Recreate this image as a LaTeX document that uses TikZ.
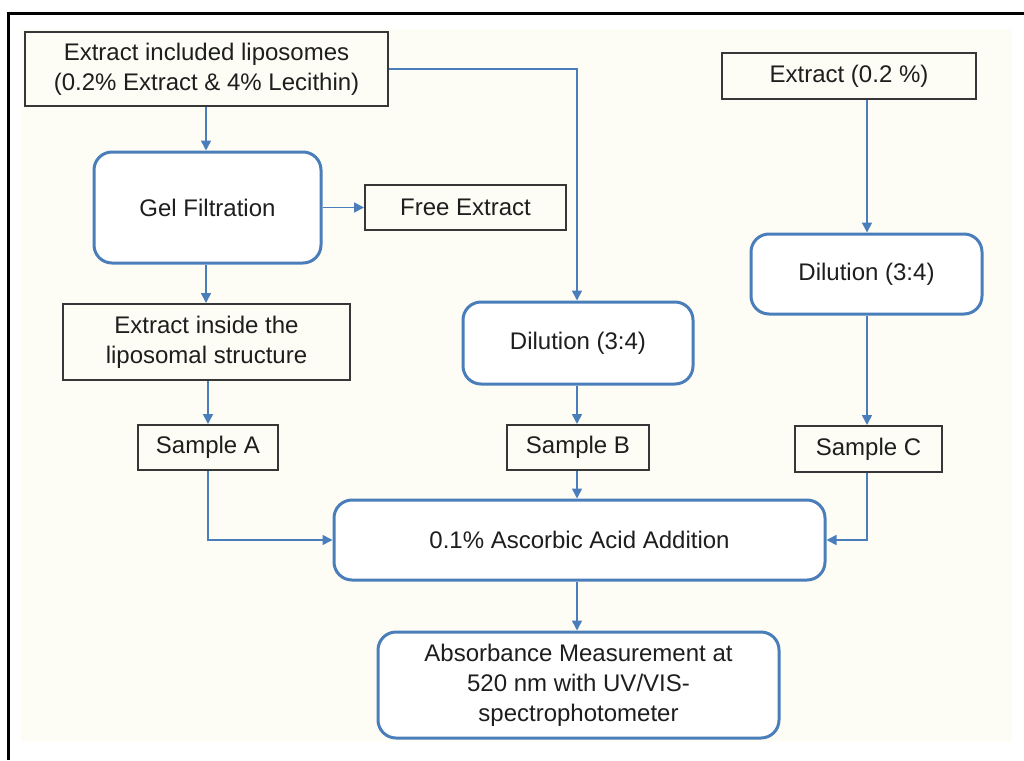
\documentclass[tikz,border=0pt]{standalone}
\usepackage{fontspec}
\setmainfont{Liberation Sans}
\usetikzlibrary{arrows.meta}
\definecolor{flowblue}{RGB}{74,126,187}
\definecolor{bgivory}{RGB}{253,253,246}
\definecolor{boxgray}{RGB}{55,55,55}
\definecolor{txtgray}{RGB}{30,30,30}
\tikzset{
  sqbox/.style={draw=boxgray, line width=2pt, fill=bgivory, align=center, inner sep=0pt, text=txtgray},
  rbox/.style={draw=flowblue, line width=3pt, rounded corners=18pt, fill=white, align=center, inner sep=0pt, text=txtgray},
  flow/.style={draw=flowblue, line width=1.6pt, -{Triangle[length=10pt,width=10pt]}},
  every node/.style={font=\fontsize{24}{30}\selectfont}
}
\begin{document}
\begin{tikzpicture}[x=1pt,y=-1pt]
\useasboundingbox (0,0) rectangle (1024,760);
\fill[white] (0,0) rectangle (1024,760);
\fill[bgivory] (21,29) rectangle (1012,742);
\draw[black, line width=3.5pt] (8.5,760) -- (8.5,13.5) -- (1024,13.5);

\node[sqbox, minimum width=363pt, minimum height=74pt] (e1) at (206.5,69) {Extract included liposomes\\(0.2\% Extract \& 4\% Lecithin)};
\node[rbox, minimum width=227pt, minimum height=111pt] (gel) at (207.5,207.5) {Gel Filtration};
\node[sqbox, minimum width=201pt, minimum height=45pt] (free) at (465.5,207.5) {Free Extract};
\node[sqbox, minimum width=287pt, minimum height=76pt] (ein) at (206.5,342) {Extract inside the\\liposomal structure};
\node[sqbox, minimum width=140pt, minimum height=45pt] (sa) at (208,447.5) {Sample A};
\node[rbox, minimum width=230pt, minimum height=82pt] (dilb) at (578,343) {Dilution (3:4)};
\node[sqbox, minimum width=142pt, minimum height=45pt] (sb) at (578,447.5) {Sample B};
\node[sqbox, minimum width=254pt, minimum height=46pt] (ext) at (849,76) {Extract (0.2 \%)};
\node[rbox, minimum width=231pt, minimum height=80pt] (dilc) at (866.5,274) {Dilution (3:4)};
\node[sqbox, minimum width=147pt, minimum height=46pt] (sc) at (868.5,449) {Sample C};
\node[rbox, minimum width=491pt, minimum height=80pt] (asc) at (579.5,540) {0.1\% Ascorbic Acid Addition};
\node[rbox, minimum width=401pt, minimum height=106pt] (abs) at (578.5,685) {Absorbance Measurement at\\520 nm with UV/VIS-\\spectrophotometer};

\coordinate (c1) at (206,0);
\coordinate (c2) at (208,0);
\coordinate (c3) at (577,0);
\coordinate (c4) at (867,0);

\draw[flow] (c1 |- e1.south) -- (c1 |- gel.north);
\draw[flow] (e1.east) -| (c3 |- dilb.north);
\draw[flow] (gel.east) -- (free.west);
\draw[flow] (c1 |- gel.south) -- (c1 |- ein.north);
\draw[flow] (c2 |- ein.south) -- (c2 |- sa.north);
\draw[flow] (c2 |- sa.south) |- (asc.west);
\draw[flow] (c3 |- dilb.south) -- (c3 |- sb.north);
\draw[flow] (c3 |- sb.south) -- (c3 |- asc.north);
\draw[flow] (c4 |- ext.south) -- (c4 |- dilc.north);
\draw[flow] (c4 |- dilc.south) -- (c4 |- sc.north);
\draw[flow] (c4 |- sc.south) |- (asc.east);
\draw[flow] (c3 |- asc.south) -- (c3 |- abs.north);
\end{tikzpicture}
\end{document}
